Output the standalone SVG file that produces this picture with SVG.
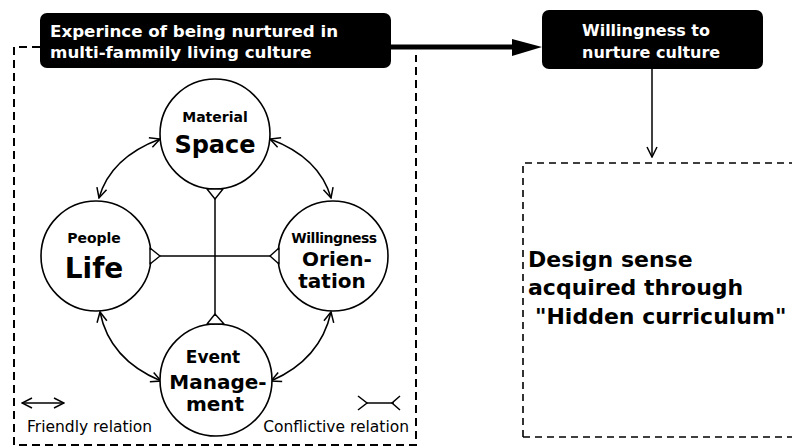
<svg xmlns="http://www.w3.org/2000/svg" width="792" height="447" viewBox="0 0 792 447">
<defs>
<style>
.t{font-family:"DejaVu Sans","Liberation Sans",sans-serif;font-weight:bold;fill:#000}
.n{font-weight:normal}
.w{font-family:"DejaVu Sans","Liberation Sans",sans-serif;font-weight:bold;fill:#fff;font-size:16.7px}
.c{fill:#fff;stroke:#000;stroke-width:1.6}
.l{fill:none;stroke:#000;stroke-width:1.5}
.tri{fill:#fff;stroke:#000;stroke-width:1.4;stroke-linejoin:round}
.d{fill:none;stroke:#000;stroke-width:2;stroke-dasharray:8 5}
</style>
<marker id="va" viewBox="0 0 12 12" refX="11" refY="6" markerWidth="12" markerHeight="12" markerUnits="userSpaceOnUse" orient="auto-start-reverse">
<path d="M1,1 L11,6 L1,11" fill="none" stroke="#000" stroke-width="1.5"/>
</marker>
</defs>
<rect width="792" height="447" fill="#fff"/>

<g id="frames">
<path class="d" d="M40,47 H14 V445 H416 V55"/>
<path class="d" d="M523,437 V163 H792 M523,437 H792" style="stroke-width:1.6;stroke-dasharray:7 5"/>
</g>

<g id="connectors">
<line x1="391" y1="47" x2="515" y2="47" stroke="#000" stroke-width="5"/>
<polygon points="512,39 542,47 512,56" fill="#000"/>
<line x1="652" y1="69" x2="652" y2="157" class="l" marker-end="url(#va)"/>
<path class="l" d="M160,139 Q110.5,157.5 99,198" marker-start="url(#va)" marker-end="url(#va)"/>
<path class="l" d="M270,139 Q319.5,157.5 331,198" marker-start="url(#va)" marker-end="url(#va)"/>
<path class="l" d="M100,312 Q109.5,359.5 161,381" marker-start="url(#va)" marker-end="url(#va)"/>
<path class="l" d="M331,312 Q320.5,359.5 271,381" marker-start="url(#va)" marker-end="url(#va)"/>
<line class="l" x1="215" y1="199" x2="215" y2="315"/>
<line class="l" x1="160" y1="256" x2="270" y2="256"/>
</g>

<g id="box-experience">
<rect x="40" y="13" width="351" height="55" rx="7" fill="#000"/>
<text class="w" x="50" y="37">Experince of being nurtured in</text>
<text class="w" x="50" y="58">multi-fammily living culture</text>
</g>

<g id="box-willingness">
<rect x="542" y="10" width="221" height="59" rx="7" fill="#000"/>
<text class="w" x="582" y="36" style="font-size:16px">Willingness to</text>
<text class="w" x="582" y="58" style="font-size:16px">nurture culture</text>
</g>

<g id="node-material">
<circle class="c" cx="215" cy="134" r="55"/>
<text class="t" x="215" y="122" text-anchor="middle" font-size="14">Material</text>
<text class="t" x="215" y="153" text-anchor="middle" font-size="24">Space</text>
<polygon class="tri" points="207,189 223,189 215,199"/>
</g>

<g id="node-people">
<circle class="c" cx="96" cy="256" r="55"/>
<text class="t" x="94" y="243" text-anchor="middle" font-size="14">People</text>
<text class="t" x="94" y="278" text-anchor="middle" font-size="28">Life</text>
<polygon class="tri" points="150,248 150,264 160,256"/>
</g>

<g id="node-willingness">
<circle class="c" cx="333" cy="256" r="55"/>
<text class="t" x="334" y="243" text-anchor="middle" font-size="14" letter-spacing="-0.5">Willingness</text>
<text class="t" x="337" y="266" text-anchor="middle" font-size="20">Orien-</text>
<text class="t" x="332" y="288" text-anchor="middle" font-size="20">tation</text>
<polygon class="tri" points="279,248 279,264 270,256"/>
</g>

<g id="node-event">
<circle class="c" cx="216" cy="380" r="56"/>
<text class="t" x="213" y="363" text-anchor="middle" font-size="17">Event</text>
<text class="t" x="218" y="389" text-anchor="middle" font-size="20">Manage-</text>
<text class="t" x="215" y="411" text-anchor="middle" font-size="20">ment</text>
<polygon class="tri" points="207,324 224,324 215,314"/>
</g>

<g id="node-design">
<text class="t" x="528" y="267" font-size="22">Design sense</text>
<text class="t" x="528" y="295" font-size="22">acquired through</text>
<text class="t" x="535" y="324" font-size="22">"Hidden curriculum"</text>
</g>

<g id="legend">
<line class="l" x1="22" y1="403" x2="64" y2="403" marker-start="url(#va)" marker-end="url(#va)"/>
<text class="t n" x="27" y="432" font-size="15.5">Friendly relation</text>
<line class="l" x1="366" y1="403" x2="394" y2="403"/>
<path class="l" d="M358,396 L367,403 L358,410 M400,396 L392,403 L400,410"/>
<text class="t n" x="409" y="432" font-size="15.5" text-anchor="end">Conflictive relation</text>
</g>
</svg>
